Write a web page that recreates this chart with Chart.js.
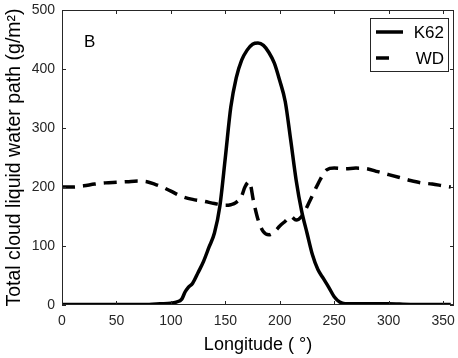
<!DOCTYPE html>
<html>
<head>
<meta charset="utf-8">
<script src="https://cdn.jsdelivr.net/npm/chart.js@4/dist/chart.umd.min.js"></script>
<style>
  body { margin: 0; background: #fff; }
  #wrap { width: 458px; height: 358px; }
</style>
</head>
<body>
<div id="wrap"><canvas id="lwpChart" width="458" height="358"></canvas></div>
<script>
// Data (longitude in degrees, LWP in g/m2)
const k62Lon = [0, 20, 40, 60, 80, 90, 100, 105, 110, 113, 116, 120, 125, 130, 135, 140, 145, 150, 155, 160, 165, 170, 175, 180, 185, 190, 195, 200, 205, 210, 215, 220, 225, 230, 235, 240, 245, 250, 255, 260, 280, 300, 320, 340, 357];
const k62Val = [1, 1, 1, 1, 1, 2, 3, 5, 10, 22, 30, 37, 55, 74, 98, 122, 168, 250, 335, 385, 415, 432, 442, 444, 440, 428, 410, 380, 345, 280, 212, 160, 122, 85, 60, 45, 30, 14, 5, 2, 2, 2, 1, 1, 1];

const wdLon = [0, 10, 20, 30, 40, 50, 60, 70, 78, 85, 92, 100, 110, 120, 130, 140, 150, 155, 160, 165, 168, 172, 176, 180, 185, 190, 195, 200, 205, 210, 215, 220, 228, 235, 243, 250, 260, 270, 280, 290, 300, 310, 320, 330, 340, 350, 357];
const wdVal = [200, 200, 202, 205, 207, 208, 209, 210, 209, 205, 200, 193, 184, 179, 176, 172, 169, 170, 174, 185, 200, 209, 175, 145, 124, 119, 124, 134, 142, 150, 144, 150, 178, 205, 229, 232, 231, 232, 231, 226, 221, 216, 211, 207, 205, 202, 200];

const seriesNames = ['K62', 'WD'];
const panelLabel = 'B';

const FONT = "'Liberation Sans', Arial, Helvetica, sans-serif";
const AXIS_COLOR = '#262626';

function toPoints(xs, ys) {
  return xs.map((x, i) => ({ x: x, y: ys[i] }));
}

// Box around the axes with inward ticks (MATLAB look), plus legend and panel label
const matlabAxes = {
  id: 'matlabAxes',
  afterDraw(chart) {
    const ctx = chart.ctx;
    const a = chart.chartArea;
    const xs = chart.scales.x;
    const ys = chart.scales.y;
    ctx.save();
    ctx.strokeStyle = AXIS_COLOR;
    ctx.lineWidth = 1;
    ctx.strokeRect(a.left + 0.5, a.top + 0.5, a.right - a.left - 1, a.bottom - a.top - 1);

    const tl = 4;
    ctx.beginPath();
    xs.ticks.forEach(t => {
      const px = Math.round(xs.getPixelForValue(t.value)) + 0.5;
      ctx.moveTo(px, a.bottom); ctx.lineTo(px, a.bottom - tl);
      ctx.moveTo(px, a.top); ctx.lineTo(px, a.top + tl);
    });
    ys.ticks.forEach(t => {
      const py = Math.round(ys.getPixelForValue(t.value)) + 0.5;
      ctx.moveTo(a.left, py); ctx.lineTo(a.left + tl, py);
      ctx.moveTo(a.right, py); ctx.lineTo(a.right - tl, py);
    });
    ctx.stroke();

    // panel label
    ctx.fillStyle = '#000';
    ctx.font = '17px ' + FONT;
    ctx.textAlign = 'left';
    ctx.textBaseline = 'alphabetic';
    ctx.fillText(panelLabel, a.left + 22, a.top + 37);

    // legend box
    const bx = a.right - 84, by = a.top + 8, bw = 78, bh = 53;
    ctx.fillStyle = '#fff';
    ctx.fillRect(bx, by, bw, bh);
    ctx.strokeStyle = AXIS_COLOR;
    ctx.strokeRect(bx + 0.5, by + 0.5, bw, bh);

    chart.data.datasets.forEach((ds, i) => {
      const ly = by + 14 + i * 26;
      ctx.strokeStyle = ds.borderColor;
      ctx.lineWidth = ds.borderWidth;
      ctx.setLineDash(ds.borderDash || []);
      ctx.beginPath();
      if (ds.borderDash) {
        ctx.moveTo(bx + 6, ly); ctx.lineTo(bx + 22, ly);
      } else {
        ctx.moveTo(bx + 6, ly); ctx.lineTo(bx + 33, ly);
      }
      ctx.stroke();
      ctx.setLineDash([]);
      ctx.fillStyle = '#000';
      ctx.font = '17px ' + FONT;
      ctx.textAlign = 'right';
      ctx.textBaseline = 'middle';
      ctx.fillText(ds.label, bx + bw - 4, ly + 1);
    });
    ctx.restore();
  }
};

const ctx = document.getElementById('lwpChart').getContext('2d');
new Chart(ctx, {
  type: 'line',
  data: {
    datasets: [
      {
        label: seriesNames[0],
        data: toPoints(k62Lon, k62Val),
        borderColor: '#000',
        borderWidth: 3.5,
        pointRadius: 0,
        cubicInterpolationMode: 'monotone',
        fill: false
      },
      {
        label: seriesNames[1],
        data: toPoints(wdLon, wdVal),
        borderColor: '#000',
        borderWidth: 3.5,
        borderDash: [13, 8],
        pointRadius: 0,
        cubicInterpolationMode: 'monotone',
        fill: false
      }
    ]
  },
  options: {
    responsive: false,
    animation: false,
    layout: { padding: { top: 10, right: 4, left: 0, bottom: 0 } },
    plugins: {
      legend: { display: false },
      tooltip: { enabled: false }
    },
    scales: {
      x: {
        type: 'linear',
        min: 0,
        max: 360,
        grid: { display: false, drawTicks: false },
        border: { display: false },
        ticks: {
          stepSize: 50,
          includeBounds: false,
          maxRotation: 0,
          padding: 8,
          color: AXIS_COLOR,
          font: { family: FONT, size: 14 }
        },
        title: {
          display: true,
          text: 'Longitude ( °)',
          color: '#000',
          font: { family: FONT, size: 18 },
          padding: { top: 0, bottom: 2 }
        },
        afterFit(scale) {
          scale.height = 53;
          scale.paddingLeft = 0;
          scale.paddingRight = 0;
        }
      },
      y: {
        min: 0,
        max: 500,
        grid: { display: false, drawTicks: false },
        border: { display: false },
        ticks: {
          stepSize: 100,
          padding: 7,
          color: AXIS_COLOR,
          font: { family: FONT, size: 14 }
        },
        title: {
          display: true,
          text: 'Total cloud liquid water path (g/m²)',
          color: '#000',
          font: { family: FONT, size: 19.5 },
          padding: { top: 3, bottom: 0 }
        },
        afterFit(scale) {
          scale.width = 62;
          scale.paddingTop = 0;
          scale.paddingBottom = 0;
        }
      }
    }
  },
  plugins: [matlabAxes]
});
</script>
</body>
</html>
